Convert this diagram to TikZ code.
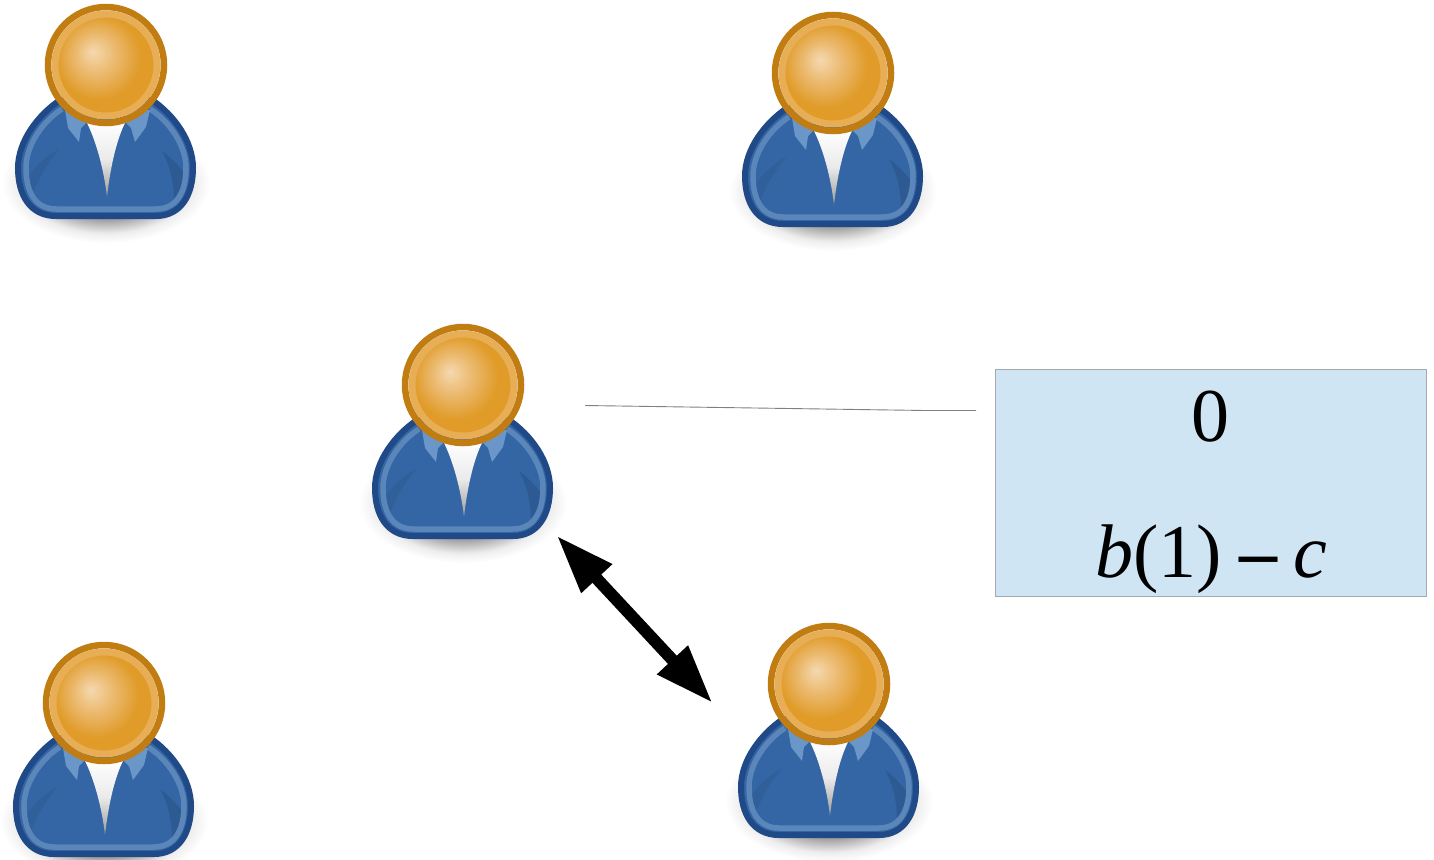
\documentclass[tikz,border=0pt]{standalone}
\usepackage{fontspec}
\setmainfont{Liberation Serif}
\usetikzlibrary{arrows.meta}
\definecolor{bodyfill}{HTML}{3465A4}
\definecolor{bodyline}{HTML}{204A87}
\definecolor{bodylight}{HTML}{5B86BA}
\definecolor{collar}{HTML}{6A96C8}
\definecolor{crease}{HTML}{2A5488}
\definecolor{headline}{HTML}{C17D11}
\definecolor{headring}{HTML}{E8AE56}
\definecolor{boxfill}{HTML}{CFE5F4}
\definecolor{boxline}{HTML}{A3A9AD}
\pgfdeclareradialshading{headshade}{\pgfpoint{-7bp}{7bp}}{%
 rgb(0bp)=(0.96,0.85,0.69);
 rgb(11bp)=(0.92,0.72,0.42);
 rgb(22bp)=(0.88,0.61,0.16);
 rgb(50bp)=(0.87,0.60,0.14)}
\pgfdeclareradialshading{groundshade}{\pgfpointorigin}{%
 rgb(0bp)=(0.45,0.45,0.45);
 rgb(13bp)=(0.50,0.50,0.50);
 rgb(16.5bp)=(0.70,0.70,0.70);
 rgb(21bp)=(0.93,0.93,0.93);
 rgb(25bp)=(1,1,1);
 rgb(50bp)=(1,1,1)}
\tikzset{
 x=1pt,y=-1pt,
 bigtext/.style={font=\fontsize{76}{76}\selectfont,anchor=base,inner sep=0pt,text=black},
 shirtshade/.style={top color=white,bottom color=black!40,middle color=white!92!black,draw=none},
 groundpic/.pic={\shade[shading=groundshade] (0,118) ellipse [x radius=104,y radius=60];},
 person/.pic={
  % body
  \path[fill=bodyfill,draw=bodyline,line width=6pt]
    (-88,103) .. controls (-88,76) and (-68,50) .. (-46,35) -- (46,35)
    .. controls (68,50) and (87,76) .. (87,103)
    .. controls (87,130) and (75,151) .. (50,151) -- (-50,151)
    .. controls (-76,151) and (-88,130) .. cycle;
  % creases
  \fill[crease,opacity=.35] (-47,84) .. controls (-60,100) and (-70,118) .. (-75,134) .. controls (-74,126) and (-77,122) .. (-78,112) .. controls (-70,100) and (-58,90) .. cycle;
  \fill[crease,opacity=.6] (56,86) .. controls (64,100) and (68,118) .. (68,136) .. controls (76,128) and (79,116) .. (78,108) .. controls (72,100) and (64,92) .. cycle;
  % light ring
  \draw[bodylight,line width=5.5pt]
    (-44,44) .. controls (-63,56) and (-80,80) .. (-80,103)
    .. controls (-80,128) and (-70,144) .. (-50,144) -- (50,144)
    .. controls (70,144) and (80,128) .. (80,103)
    .. controls (80,80) and (63,56) .. (44,44);
  % collars
  \fill[collar] (-41,45) -- (-38,63) -- (-27,77) -- (-25,63) -- (-19,57) -- (-19,45) -- cycle;
  \fill[collar] (44,45) -- (40,62) -- (29,77) -- (25,63) -- (19,57) -- (19,45) -- cycle;
  % shirt
  \shade[shirtshade] (-20,56) .. controls (-10,75) and (-2,105) .. (1,132)
    .. controls (4,105) and (10,75) .. (20,56) -- cycle;
  % head
  \shade[shading=headshade] (0,0) circle [radius=48];
  \draw[headring,line width=7pt] (0,0) circle [radius=51];
  \draw[headline,line width=6.5pt] (0,0) circle [radius=58];
 }
}
\begin{document}
\begin{tikzpicture}
\useasboundingbox (0,0) rectangle (1434,859);
% ground shadows
\foreach \px/\py in {106/65,833/73,463/385,829/684,104/703}
  \pic at (\px,\py) {groundpic};
% people
\pic at (106,65) {person};
\pic at (833,73) {person};
\pic at (463,385) {person};
\pic at (829,684) {person};
\pic at (104,703) {person};
% value box
\node[draw=boxline,fill=boxfill,line width=1pt,minimum width=431pt,minimum height=227pt,inner sep=0pt,outer sep=0pt,anchor=north west] (box) at (995,369) {};
\node[bigtext] (top) at (1210,441.5) {0};
\node[bigtext] (bottom) at (1211.5,577) {\textit{b}(1)\hspace{17pt}\textbf{–}\hspace{16pt}\textit{c}};
% connectors
\coordinate (lineA) at (585,405.5);
\coordinate (lineB) at (925,410.5);
\coordinate (lineC) at (976,410.5);
\draw[black!50,line width=.9pt] (lineA) -- (lineB) -- (lineC);
\coordinate (arrowA) at (556.6,535.5);
\coordinate (arrowB) at (712.6,703);
\draw[{Triangle[length=59pt,width=39pt]}-{Triangle[length=59pt,width=39pt]},line width=12pt,black] (arrowA) -- (arrowB);
\end{tikzpicture}
\end{document}
